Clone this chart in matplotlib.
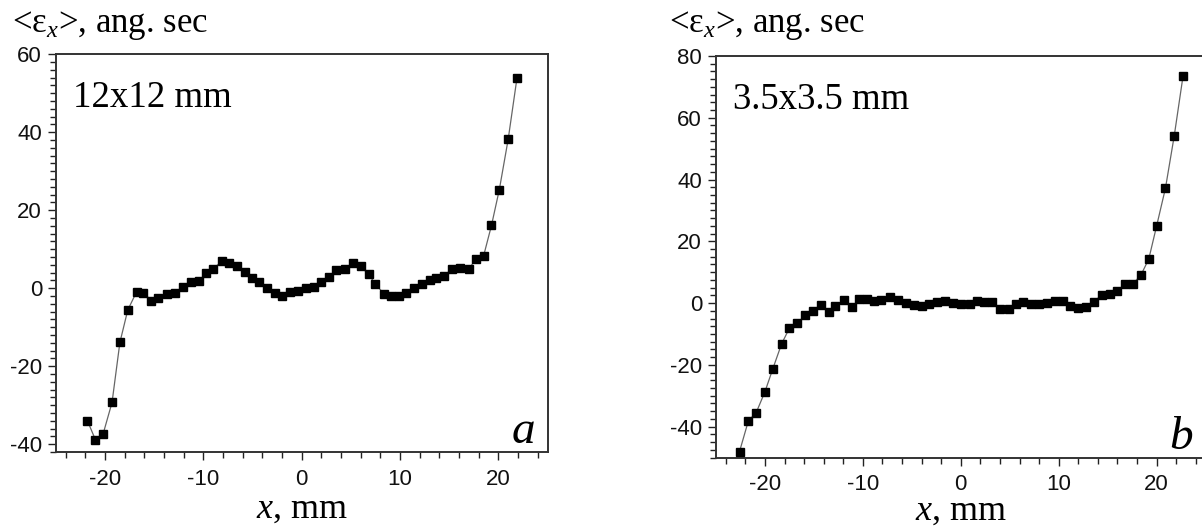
import matplotlib
matplotlib.use("Agg")
import matplotlib.pyplot as plt
from matplotlib.ticker import MultipleLocator

plt.rcParams['mathtext.fontset'] = 'custom'
plt.rcParams['mathtext.rm'] = 'Liberation Serif'
plt.rcParams['mathtext.it'] = 'Liberation Serif:italic'
plt.rcParams['axes.unicode_minus'] = False

# ---- Panel a: 12x12 mm ----
xa = [-21.8, -21.0, -20.2, -19.3, -18.5, -17.7, -16.8, -16.1, -15.3, -14.6,
      -13.7, -12.9, -12.1, -11.3, -10.5, -9.7, -9.0, -8.1, -7.4, -6.6,
      -5.8, -5.1, -4.3, -3.5, -2.7, -2.0, -1.2, -0.4, 0.4, 1.2,
      2.0, 2.8, 3.5, 4.4, 5.2, 6.0, 6.8, 7.5, 8.4, 9.1,
      9.9, 10.6, 11.4, 12.2, 13.0, 13.7, 14.5, 15.3, 16.1, 17.0,
      17.7, 18.5, 19.3, 20.1, 21.0, 21.9]
ya = [-34.0, -38.8, -37.3, -29.3, -13.9, -5.6, -0.9, -1.2, -3.2, -2.6,
      -1.5, -1.2, 0.2, 1.6, 1.8, 3.8, 5.0, 7.0, 6.5, 5.7,
      4.1, 2.7, 1.6, 0.0, -1.1, -2.1, -0.9, -0.7, 0.0, 0.2,
      1.6, 2.8, 4.8, 5.0, 6.4, 5.6, 3.6, 1.0, -1.5, -2.1,
      -2.1, -1.2, 0.0, 1.1, 2.2, 2.6, 3.2, 5.0, 5.3, 5.0,
      7.4, 8.3, 16.1, 25.3, 38.2, 54.0]

# ---- Panel b: 3.5x3.5 mm ----
xb = [-22.6, -21.7, -20.9, -20.0, -19.2, -18.3, -17.5, -16.7, -15.9, -15.1,
      -14.3, -13.5, -12.8, -11.9, -11.1, -10.4, -9.6, -8.9, -8.1, -7.2,
      -6.4, -5.6, -4.8, -4.0, -3.2, -2.4, -1.6, -0.8, 0.0, 0.9,
      1.7, 2.4, 3.2, 4.0, 4.9, 5.6, 6.4, 7.2, 8.0, 8.8,
      9.6, 10.4, 11.2, 12.0, 12.8, 13.6, 14.4, 15.2, 16.0, 16.8,
      17.6, 18.4, 19.2, 20.0, 20.9, 21.8, 22.7]
yb = [-48.1, -38.2, -35.5, -28.7, -21.3, -13.2, -8.1, -6.6, -3.9, -2.5,
      -0.5, -2.8, -0.8, 1.1, -1.4, 1.3, 1.3, 0.8, 1.0, 2.0,
      0.9, 0.0, -0.5, -1.1, -0.2, 0.4, 0.8, 0.1, -0.4, -0.4,
      0.8, 0.3, 0.2, -2.0, -1.9, -0.3, 0.2, -0.2, -0.2, 0.1,
      0.6, 0.6, -1.0, -1.6, -1.4, 0.5, 2.6, 3.1, 3.9, 6.3,
      6.3, 9.1, 14.3, 25.0, 37.2, 54.2, 73.6]

xticks = [-20, -10, 0, 10, 20]
yticks_a = [-40, -20, 0, 20, 40, 60]
yticks_b = [-40, -20, 0, 20, 40, 60, 80]

W, H = 1202, 526
fig = plt.figure(figsize=(W / 100, H / 100), dpi=100)

def px_axes(x0, x1, ytop, ybot):
    return [x0 / W, 1 - ybot / H, (x1 - x0) / W, (ybot - ytop) / H]

ax_a = fig.add_axes(px_axes(56, 547.5, 54.3, 452))
ax_b = fig.add_axes(px_axes(716, 1205.6, 56, 457.5))

serif = 'Liberation Serif'
sans = 'Liberation Sans'

def style(ax, xs, ys, yt, ylim, yminor, label, letter, xlpad):
    ax.plot(xs, ys, color='#666666', lw=0.9, marker='s', ms=5.2,
            mfc='black', mec='black', zorder=3)
    ax.set_xlim(-25, 25)
    ax.set_ylim(*ylim)
    ax.set_xticks(xticks)
    ax.set_yticks(yt)
    ax.xaxis.set_minor_locator(MultipleLocator(2))
    ax.yaxis.set_minor_locator(MultipleLocator(yminor))
    ax.tick_params(which='both', direction='out', color='#222222', width=1.0,
                   top=False, right=False)
    ax.tick_params(which='major', length=6, labelsize=16, pad=4)
    ax.tick_params(which='minor', length=4.5)
    ax.tick_params(axis='x', which='major', pad=6)
    for t in ax.get_xticklabels() + ax.get_yticklabels():
        t.set_fontfamily(sans)
        t.set_color('#111111')
    for s in ax.spines.values():
        s.set_color('#333333')
        s.set_linewidth(1.4)
    ax.text(0.035, 0.935, label, transform=ax.transAxes, fontsize=26.5,
            family=serif, ha='left', va='top')
    ax.text(0.975, 0.022, letter, transform=ax.transAxes, fontsize=34,
            family=serif, style='italic', ha='right', va='baseline')
    ax.set_xlabel(r'$x$, mm', fontsize=26, family=serif, labelpad=xlpad)

style(ax_a, xa, ya, yticks_a, (-42, 60), 2, '12x12 mm', 'a', 2)
style(ax_b, xb, yb, yticks_b, (-50, 80), 2.5, '3.5x3.5 mm', 'b', 0)

ylab = r'<ε$_x$>, ang. sec'
fig.text(12 / W, 1 - 32 / H, ylab, fontsize=25, family=serif, va='baseline', ha='left')
fig.text(669 / W, 1 - 32 / H, ylab, fontsize=25, family=serif, va='baseline', ha='left')

fig.savefig('out.png', dpi=100)
